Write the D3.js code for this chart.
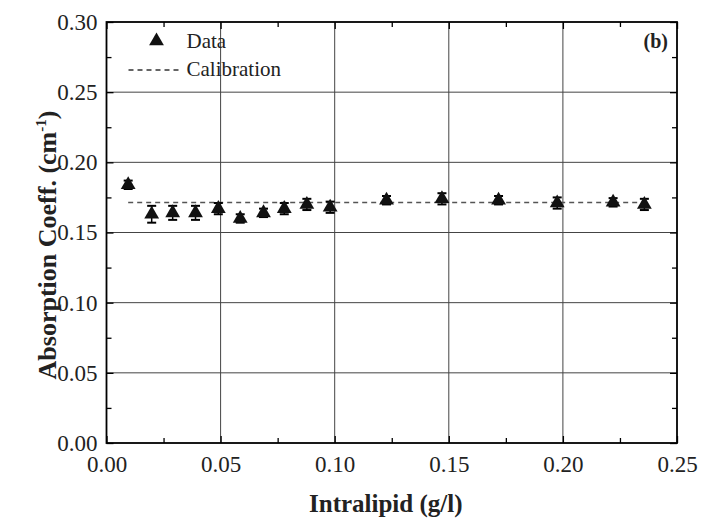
<!DOCTYPE html>
<meta charset="utf-8">
<script src="https://d3js.org/d3.v7.min.js"></script>
<body style="margin:0;background:#fff">
<script>
// Intralipid concentration (g/l)
var conc = [0.0095, 0.0198, 0.029, 0.039, 0.049, 0.0586, 0.0688, 0.0779, 0.0878, 0.098,
            0.1227, 0.147, 0.1718, 0.1975, 0.222, 0.2357];
// measured absorption coefficient (cm^-1)
var absorb = [0.184, 0.163, 0.164, 0.164, 0.167, 0.160, 0.164, 0.167, 0.170, 0.168,
              0.173, 0.174, 0.173, 0.171, 0.1715, 0.170];
var absErr = [0.003, 0.006, 0.005, 0.005, 0.004, 0.003, 0.003, 0.004, 0.004, 0.004,
              0.003, 0.004, 0.003, 0.004, 0.003, 0.004];
var calibration = 0.1714;
var xTicks = [0, 0.05, 0.10, 0.15, 0.20, 0.25];
var yTicks = [0, 0.05, 0.10, 0.15, 0.20, 0.25, 0.30];

var FONT = "Liberation Serif";
var W = 704, H = 521;
var margin = {top: 22, right: 27, bottom: 78, left: 106.5};
var width = W - margin.left - margin.right,
    height = H - margin.top - margin.bottom;

var svg = d3.select("body").append("svg")
    .attr("width", W).attr("height", H)
    .attr("font-family", FONT);
var g = svg.append("g")
    .attr("transform", "translate(" + margin.left + "," + margin.top + ")");

var x = d3.scaleLinear().domain([0, 0.25]).range([0, width]);
var y = d3.scaleLinear().domain([0, 0.30]).range([height, 0]);

// grid lines
g.selectAll(".vgrid").data(xTicks.slice(1, -1)).enter().append("line")
    .attr("x1", d => x(d)).attr("x2", d => x(d))
    .attr("y1", 0).attr("y2", height)
    .attr("stroke", "#444").attr("stroke-width", 1);
g.selectAll(".hgrid").data(yTicks.slice(1, -1)).enter().append("line")
    .attr("x1", 0).attr("x2", width)
    .attr("y1", d => y(d)).attr("y2", d => y(d))
    .attr("stroke", "#444").attr("stroke-width", 1);

// axes with inward ticks
var xMinor = d3.range(0.025, 0.25, 0.05);
var yMinor = d3.range(0.025, 0.30, 0.05);

var fmt = d3.format(".2f");
g.append("g").attr("transform", "translate(0," + height + ")")
    .call(d3.axisBottom(x).tickValues(xTicks).tickFormat(fmt).tickSizeInner(-7).tickSizeOuter(0).tickPadding(13));
g.append("g").attr("transform", "translate(0," + height + ")")
    .call(d3.axisBottom(x).tickValues(xMinor).tickFormat("").tickSizeInner(-5).tickSizeOuter(0));
g.append("g")
    .call(d3.axisLeft(y).tickValues(yTicks).tickFormat(fmt).tickSizeInner(-7).tickSizeOuter(0).tickPadding(9));
g.append("g")
    .call(d3.axisLeft(y).tickValues(yMinor).tickFormat("").tickSizeInner(-5).tickSizeOuter(0));
g.append("g")
    .call(d3.axisTop(x).tickValues(xTicks).tickFormat("").tickSizeInner(-7).tickSizeOuter(0));
g.append("g")
    .call(d3.axisTop(x).tickValues(xMinor).tickFormat("").tickSizeInner(-5).tickSizeOuter(0));
g.append("g").attr("transform", "translate(" + width + ",0)")
    .call(d3.axisRight(y).tickValues(yTicks).tickFormat("").tickSizeInner(-7).tickSizeOuter(0));
g.append("g").attr("transform", "translate(" + width + ",0)")
    .call(d3.axisRight(y).tickValues(yMinor).tickFormat("").tickSizeInner(-5).tickSizeOuter(0));

g.selectAll(".domain").remove();
g.selectAll("g").attr("font-family", FONT).attr("font-size", 23);
g.selectAll(".tick line").attr("stroke", "#000").attr("stroke-width", 1.3);
g.selectAll(".tick text")
    .attr("font-family", FONT).attr("font-size", 23).attr("fill", "#222");

// frame
g.append("rect").attr("x", 0).attr("y", 0)
    .attr("width", width).attr("height", height)
    .attr("fill", "none").attr("stroke", "#000").attr("stroke-width", 1.8);

// calibration line
g.append("line")
    .attr("x1", x(conc[0])).attr("x2", x(conc[conc.length - 1]))
    .attr("y1", y(calibration)).attr("y2", y(calibration))
    .attr("stroke", "#555").attr("stroke-width", 1.5)
    .attr("stroke-dasharray", "5,4");

// error bars
var pts = conc.map((c, i) => ({x: c, y: absorb[i], e: absErr[i]}));
var cap = 4.5;
g.selectAll(".err").data(pts).enter().append("line")
    .attr("x1", d => x(d.x)).attr("x2", d => x(d.x))
    .attr("y1", d => y(d.y - d.e)).attr("y2", d => y(d.y + d.e))
    .attr("stroke", "#000").attr("stroke-width", 1.5);
g.selectAll(".capLo").data(pts).enter().append("line")
    .attr("x1", d => x(d.x) - cap).attr("x2", d => x(d.x) + cap)
    .attr("y1", d => y(d.y - d.e)).attr("y2", d => y(d.y - d.e))
    .attr("stroke", "#000").attr("stroke-width", 2);
g.selectAll(".capHi").data(pts).enter().append("line")
    .attr("x1", d => x(d.x) - cap).attr("x2", d => x(d.x) + cap)
    .attr("y1", d => y(d.y + d.e)).attr("y2", d => y(d.y + d.e))
    .attr("stroke", "#000").attr("stroke-width", 2);

// triangles
var tri = d3.symbol().type(d3.symbolTriangle).size(95);
g.selectAll(".pt").data(pts).enter().append("path")
    .attr("d", tri)
    .attr("transform", d => "translate(" + x(d.x) + "," + y(d.y) + ")")
    .attr("fill", "#111");

// legend
g.append("path").attr("d", tri)
    .attr("transform", "translate(" + 50 + "," + 19 + ")")
    .attr("fill", "#111");
g.append("text").attr("x", 80).attr("y", 26).attr("fill", "#222")
    .attr("font-family", FONT).attr("font-size", 21).text("Data");
g.append("line").attr("x1", 22).attr("x2", 72).attr("y1", 48).attr("y2", 48)
    .attr("stroke", "#333").attr("stroke-width", 1.5).attr("stroke-dasharray", "5,4");
g.append("text").attr("x", 80).attr("y", 54).attr("fill", "#222")
    .attr("font-family", FONT).attr("font-size", 21).text("Calibration");

// panel label
g.append("text").attr("x", width - 9).attr("y", 26).attr("text-anchor", "end")
    .attr("font-family", FONT).attr("font-size", 20).attr("font-weight", "bold")
    .attr("fill", "#222").text("(b)");

// axis titles
svg.append("text")
    .attr("x", margin.left + width / 2 - 6).attr("y", 512)
    .attr("text-anchor", "middle")
    .attr("font-family", FONT).attr("font-size", 25).attr("font-weight", "bold")
    .attr("fill", "#222").text("Intralipid (g/l)");

var yt = svg.append("text")
    .attr("transform", "translate(56,245) rotate(-90)")
    .attr("text-anchor", "middle")
    .attr("font-family", FONT).attr("font-size", 26).attr("font-weight", "bold")
    .attr("fill", "#222");
yt.append("tspan").text("Absorption Coeff. (cm");
yt.append("tspan").attr("dy", -10).attr("font-size", 15).text("-1");
yt.append("tspan").attr("dy", 10).text(")");
</script>
</body>
